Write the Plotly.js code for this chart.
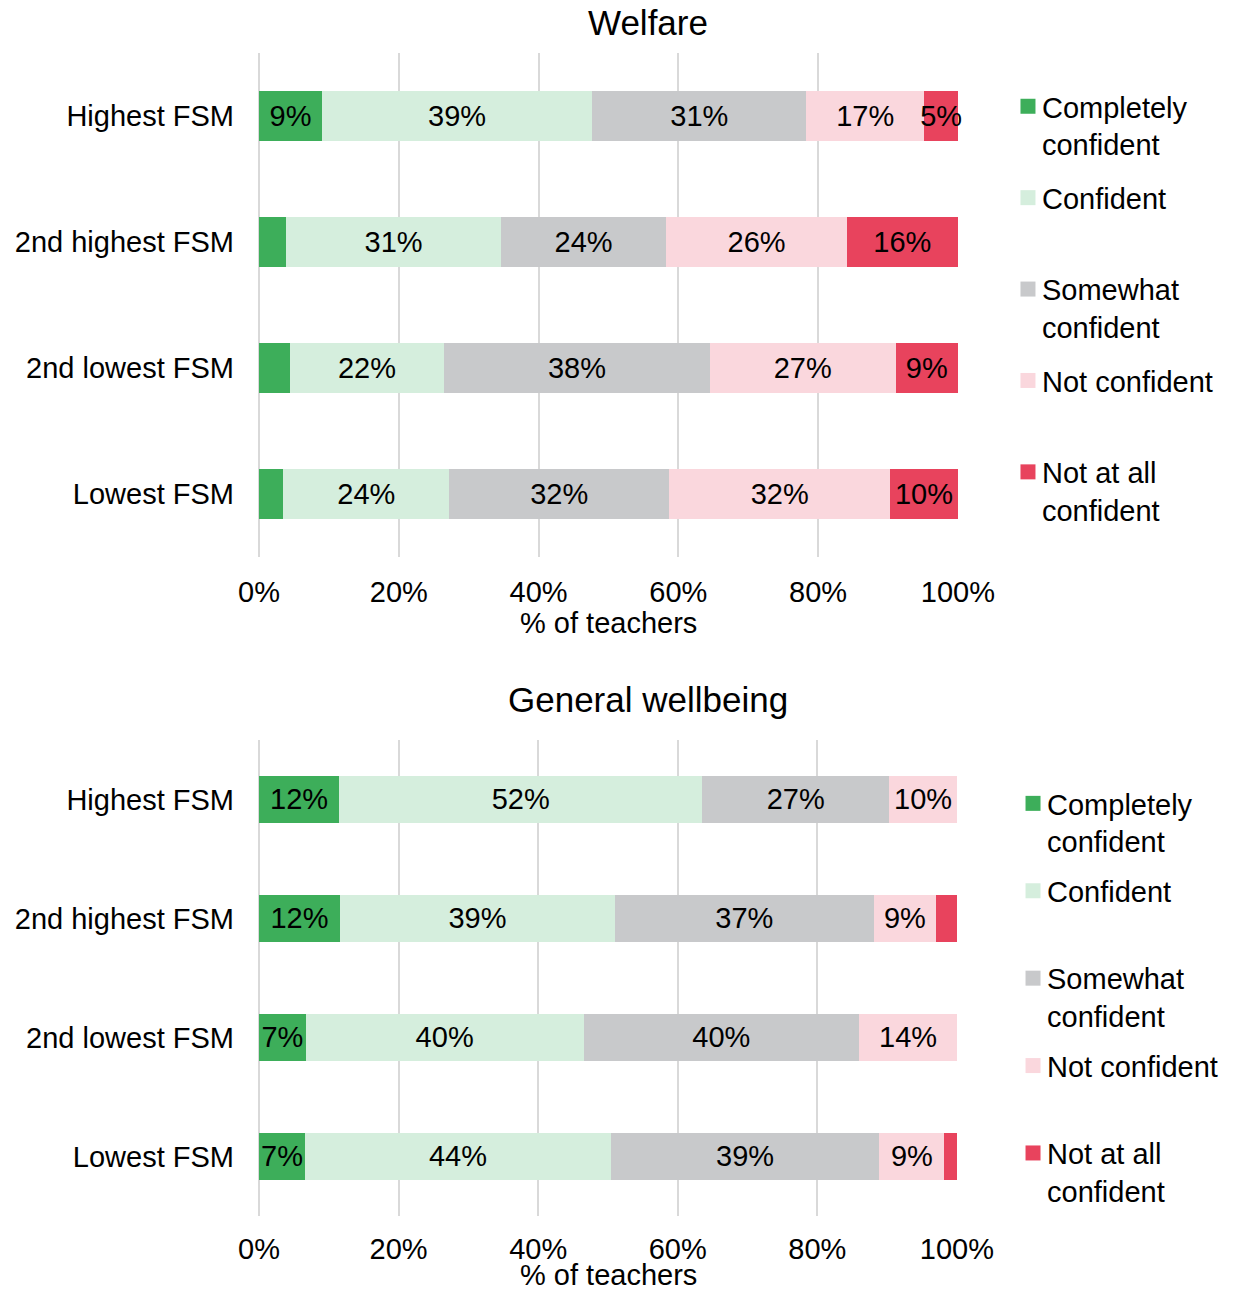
<!DOCTYPE html>
<html>
<head>
<meta charset="utf-8">
<script src="https://cdn.plot.ly/plotly-3.0.1.min.js"></script>
<style>html,body{margin:0;padding:0;background:#fff;}#chart{width:1234px;height:1292px;}</style>
</head>
<body>
<div id="chart"></div>
<script>
// Categories (top to bottom)
const categories = ["Highest FSM", "2nd highest FSM", "2nd lowest FSM", "Lowest FSM"];
const seriesNames = ["Completely<br>confident", "Confident<br>\u00a0", "Somewhat<br>confident", "Not confident<br>\u00a0", "Not at all<br>confident"];
const seriesColors = ["#3dae5a", "#d5eedd", "#c8c9cb", "#fad7dd", "#e8435d"];
const xTickVals = [0, 20, 40, 60, 80, 100];
const xAxisTitle = "% of teachers";
const panelTitles = ["Welfare", "General wellbeing"];

// Welfare (% of teachers)
const welfareCompletely = [9.0, 3.9, 4.4, 3.5];
const welfareConfident = [38.7, 30.7, 22.1, 23.7];
const welfareSomewhat = [30.6, 23.7, 38.0, 31.5];
const welfareNotConfident = [16.9, 25.8, 26.6, 31.6];
const welfareNotAtAll = [4.8, 15.9, 8.9, 9.7];

// General wellbeing (% of teachers)
const wellbeingCompletely = [11.5, 11.6, 6.7, 6.6];
const wellbeingConfident = [52.0, 39.4, 39.8, 43.8];
const wellbeingSomewhat = [26.8, 37.1, 39.5, 38.5];
const wellbeingNotConfident = [9.7, 8.9, 14.0, 9.3];
const wellbeingNotAtAll = [0.0, 3.0, 0.0, 1.8];

const FONT = "Liberation Sans, Arial, sans-serif";
const FS = 29;

function label(v) { return Math.round(v) >= 5 ? Math.round(v) + "%" : ""; }

function makeTraces(seriesList, xa, ya, legendId, grp) {
  return seriesList.map((vals, i) => ({
    type: "bar",
    orientation: "h",
    x: vals,
    y: categories,
    xaxis: xa,
    yaxis: ya,
    name: seriesNames[i],
    legend: legendId,
    legendgroup: grp + i,
    marker: {color: seriesColors[i], line: {width: 0}},
    text: vals.map(label),
    textposition: "inside",
    insidetextanchor: "middle",
    textangle: 0,
    constraintext: "none",
    insidetextfont: {family: FONT, size: FS, color: "#000"},
    hoverinfo: "x+y+name",
    cliponaxis: false
  }));
}

const traces = []
  .concat(makeTraces([welfareCompletely, welfareConfident, welfareSomewhat, welfareNotConfident, welfareNotAtAll], "x", "y", "legend", "w"))
  .concat(makeTraces([wellbeingCompletely, wellbeingConfident, wellbeingSomewhat, wellbeingNotConfident, wellbeingNotAtAll], "x2", "y2", "legend2", "g"));

const xAxisBase = {
  range: [0, 100.02],
  tickvals: xTickVals,
  ticktext: xTickVals.map(v => v + "%"),
  showgrid: true,
  gridcolor: "#d9d9d9",
  gridwidth: 2,
  zeroline: true,
  zerolinecolor: "#d9d9d9",
  zerolinewidth: 2,
  showline: false,
  ticks: "",
  ticklabelstandoff: 15,
  tickfont: {family: FONT, size: FS, color: "#000"},
  fixedrange: true
};
const yAxisBase = {
  autorange: "reversed",
  showgrid: false,
  zeroline: false,
  showline: false,
  ticks: "",
  ticklabelstandoff: 24,
  tickfont: {family: FONT, size: FS, color: "#000"},
  fixedrange: true
};

const legendBase = {
  font: {family: FONT, size: FS, color: "#000"},
  bgcolor: "rgba(0,0,0,0)",
  borderwidth: 0,
  xanchor: "left",
  yanchor: "top",
  valign: "top",
  traceorder: "grouped"
};

const layout = {
  width: 1234,
  height: 1292,
  margin: {l: 259, r: 275, t: 53, b: 76},
  paper_bgcolor: "#fff",
  plot_bgcolor: "#fff",
  barmode: "stack",
  bargap: 0.6,
  font: {family: FONT, size: FS, color: "#000"},
  xaxis: Object.assign({}, xAxisBase, {domain: [0, 1], anchor: "y"}),
  yaxis: Object.assign({}, yAxisBase, {domain: [0.5666, 1], anchor: "x"}),
  xaxis2: Object.assign({}, xAxisBase, {domain: [0, 0.9986], anchor: "y2", ticklabelstandoff: 13}),
  yaxis2: Object.assign({}, yAxisBase, {domain: [0, 0.4093], anchor: "x2"}),
  legend: Object.assign({}, legendBase, {x: 1.0614, y: 0.976, tracegroupgap: 13}),
  legend2: Object.assign({}, legendBase, {x: 1.0686, y: 0.3766, tracegroupgap: 9}),
  annotations: [
    {text: panelTitles[0], xref: "paper", yref: "paper", x: 0.557, y: 1.0258, xanchor: "center", yanchor: "middle", showarrow: false, font: {family: FONT, size: 35, color: "#000"}},
    {text: panelTitles[1], xref: "paper", yref: "paper", x: 0.557, y: 0.4445, xanchor: "center", yanchor: "middle", showarrow: false, font: {family: FONT, size: 35, color: "#000"}},
    {text: xAxisTitle, xref: "x domain", yref: "paper", x: 0.5, y: 0.5095, xanchor: "center", yanchor: "middle", showarrow: false, font: {family: FONT, size: FS, color: "#000"}},
    {text: xAxisTitle, xref: "x2 domain", yref: "paper", x: 0.5, y: -0.0653, xanchor: "center", yanchor: "bottom", borderpad: 0, showarrow: false, font: {family: FONT, size: FS, color: "#000"}}
  ],
  showlegend: true
};

Plotly.newPlot("chart", traces, layout, {displayModeBar: false, responsive: false}).then(function (gd) {
  // enlarge legend swatches slightly to match the reference's square markers (both legends)
  gd.querySelectorAll(".legendpoints path").forEach(function (p) {
    const t = p.getAttribute("transform") || "";
    p.setAttribute("transform", t + " translate(6,0) scale(1.25)");
  });
});
</script>
</body>
</html>
